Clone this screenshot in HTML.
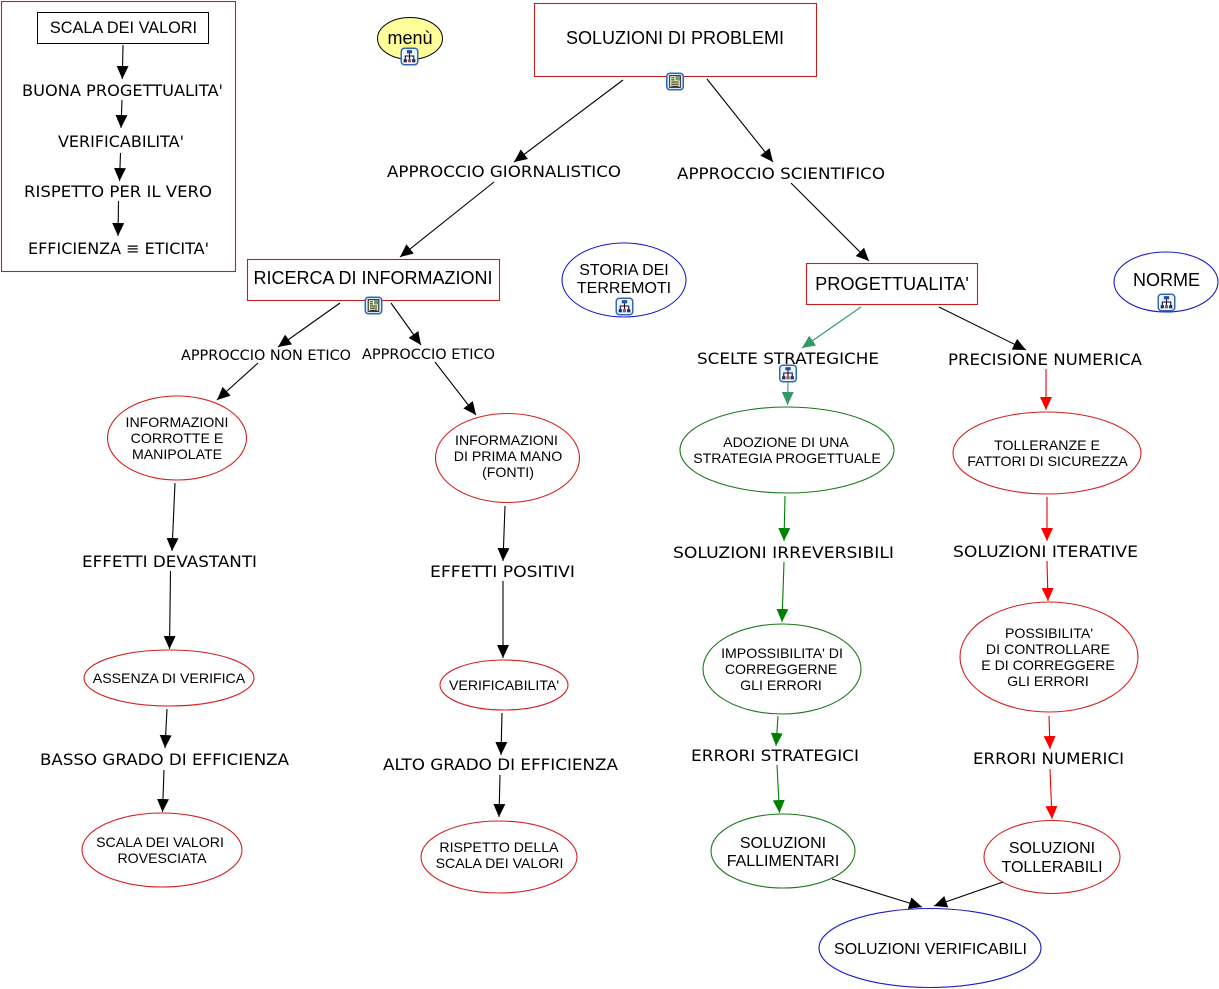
<!DOCTYPE html>
<html lang="it">
<head>
<meta charset="utf-8">
<title>Soluzioni di problemi</title>
<style>
html,body{margin:0;padding:0;background:#fff;width:1219px;height:989px;overflow:hidden}
svg{display:block}
.a{font-family:"Liberation Sans",Arial,sans-serif;text-anchor:middle;fill:#000}
.v{font-family:"DejaVu Sans",Verdana,sans-serif;fill:#000}
.k{stroke:#000;stroke-width:1.1;fill:none}
.g{stroke:#339966;stroke-width:1.1;fill:none}
.dg{stroke:#008000;stroke-width:1.1;fill:none}
.r{stroke:#f00000;stroke-width:1.1;fill:none}
</style>
</head>
<body>
<svg width="1219" height="989" viewBox="0 0 1219 989" xmlns="http://www.w3.org/2000/svg">
<defs>
<marker id="mk" markerUnits="userSpaceOnUse" markerWidth="14" markerHeight="13" refX="13" refY="6" orient="auto"><path d="M0 0L13 6L0 12Z" fill="#000"/></marker>
<marker id="mg" markerUnits="userSpaceOnUse" markerWidth="14" markerHeight="13" refX="13" refY="6" orient="auto"><path d="M0 0L13 6L0 12Z" fill="#339966"/></marker>
<marker id="md" markerUnits="userSpaceOnUse" markerWidth="14" markerHeight="13" refX="13" refY="6" orient="auto"><path d="M0 0L13 6L0 12Z" fill="#008000"/></marker>
<marker id="mr" markerUnits="userSpaceOnUse" markerWidth="14" markerHeight="13" refX="13" refY="6" orient="auto"><path d="M0 0L13 6L0 12Z" fill="#ff0000"/></marker>
<symbol id="im" viewBox="0 0 17 17">
<rect x=".7" y=".7" width="15.6" height="15.6" rx="3" fill="#eef5fd" stroke="#2f68b8" stroke-width="1.4"/>
<path d="M8.500 5.500V8M4.500 11V8H12.500V11M8.500 8V11" stroke="#112" fill="none"/>
<rect x="6" y="2.500" width="5" height="3" fill="#2a4a9c"/>
<rect x="3" y="11" width="3" height="3" fill="#1a2a60"/><rect x="7" y="11" width="3" height="3" fill="#a05050"/><rect x="11" y="11" width="3" height="3" fill="#1a2a60"/>
</symbol>
<symbol id="id" viewBox="0 0 17 17">
<rect x=".7" y=".7" width="15.6" height="15.6" rx="3" fill="#dbe8f8" stroke="#2f68b8" stroke-width="1.4"/>
<rect x="3.500" y="3" width="10" height="11" fill="#ffffc8" stroke="#111" stroke-width=".9"/>
<rect x="9" y="3.500" width="4" height="4" fill="#6b9a78"/>
<path d="M5 5H8M5 7H8M5 9H12M5 11H12M5 13H12" stroke="#111" stroke-width=".9"/>
</symbol>
</defs>

<!-- boxes -->
<rect x="1.500" y="1.500" width="234" height="270" style="fill:#fff;stroke:#c02020;stroke-width:1.1"/>
<rect x="37.500" y="12.500" width="171" height="31" fill="#fff" stroke="#000"/>
<rect x="534.500" y="3.500" width="282" height="73" fill="#fff" stroke="#c02020" stroke-width="1.1"/>
<rect x="247.500" y="259.500" width="252" height="41" fill="#fff" stroke="#c02020" stroke-width="1.1"/>
<rect x="806.500" y="263.500" width="171" height="41" fill="#fff" stroke="#c02020" stroke-width="1.1"/>

<!-- ellipses -->
<ellipse cx="410" cy="38.500" rx="32.500" ry="21" fill="#ffff99" stroke="#000"/>
<g fill="#fff" stroke="#d42020" stroke-width="1.1">
<ellipse cx="177" cy="438" rx="69.500" ry="42"/>
<ellipse cx="507.500" cy="458" rx="72" ry="44.500"/>
<ellipse cx="169" cy="678" rx="85" ry="28"/>
<ellipse cx="504" cy="685" rx="64" ry="25"/>
<ellipse cx="162" cy="850" rx="80" ry="37"/>
<ellipse cx="499" cy="857" rx="78" ry="36"/>
<ellipse cx="1047" cy="453" rx="94" ry="41"/>
<ellipse cx="1049" cy="657" rx="89" ry="55"/>
<ellipse cx="1052" cy="857" rx="68" ry="36.500"/>
</g>
<g fill="#fff" stroke="#1a7a1a" stroke-width="1.1">
<ellipse cx="787" cy="450" rx="107" ry="43"/>
<ellipse cx="782" cy="669" rx="79" ry="45"/>
<ellipse cx="783" cy="851" rx="72" ry="37"/>
</g>
<g fill="#fff" stroke="#1c1cc8" stroke-width="1.1">
<ellipse cx="624" cy="280" rx="62" ry="37"/>
<ellipse cx="1166" cy="282" rx="52" ry="30"/>
<ellipse cx="930" cy="948" rx="111" ry="39.500"/>
</g>

<!-- connectors -->
<g class="k">
<line x1="123" y1="45" x2="122.300" y2="79" marker-end="url(#mk)"/>
<line x1="122" y1="100" x2="121" y2="128" marker-end="url(#mk)"/>
<line x1="120.500" y1="153" x2="119.500" y2="181" marker-end="url(#mk)"/>
<line x1="118.500" y1="201" x2="118" y2="236" marker-end="url(#mk)"/>
<line x1="623" y1="80" x2="514" y2="162" marker-end="url(#mk)"/>
<line x1="707" y1="79" x2="773" y2="162" marker-end="url(#mk)"/>
<line x1="494" y1="182" x2="400" y2="257" marker-end="url(#mk)"/>
<line x1="791" y1="183" x2="869" y2="261" marker-end="url(#mk)"/>
<line x1="340" y1="303" x2="278" y2="347" marker-end="url(#mk)"/>
<line x1="391" y1="303" x2="421" y2="345" marker-end="url(#mk)"/>
<line x1="258" y1="363" x2="217" y2="400" marker-end="url(#mk)"/>
<line x1="435" y1="362" x2="476" y2="415" marker-end="url(#mk)"/>
<line x1="175" y1="483" x2="172" y2="551" marker-end="url(#mk)"/>
<line x1="170.500" y1="571" x2="169.500" y2="649" marker-end="url(#mk)"/>
<line x1="167" y1="709" x2="165" y2="748" marker-end="url(#mk)"/>
<line x1="164" y1="770" x2="162.500" y2="812" marker-end="url(#mk)"/>
<line x1="505" y1="506" x2="503" y2="561" marker-end="url(#mk)"/>
<line x1="503" y1="581" x2="503" y2="658" marker-end="url(#mk)"/>
<line x1="502" y1="713" x2="501" y2="755" marker-end="url(#mk)"/>
<line x1="500" y1="775" x2="499" y2="817" marker-end="url(#mk)"/>
<line x1="939" y1="307" x2="1026" y2="350" marker-end="url(#mk)"/>
<line x1="832" y1="879" x2="922" y2="907" marker-end="url(#mk)"/>
<line x1="1003" y1="882" x2="934" y2="906" marker-end="url(#mk)"/>
</g>
<line class="g" x1="861" y1="307" x2="802" y2="348" marker-end="url(#mg)"/>
<line class="g" x1="788" y1="382" x2="787.500" y2="405" marker-end="url(#mg)"/>
<line class="dg" x1="785" y1="496" x2="784" y2="541" marker-end="url(#md)"/>
<line class="dg" x1="784" y1="562" x2="782" y2="622" marker-end="url(#md)"/>
<line class="dg" x1="778" y1="716" x2="776" y2="746" marker-end="url(#md)"/>
<line class="dg" x1="777" y1="765" x2="779.500" y2="813" marker-end="url(#md)"/>
<line class="r" x1="1046" y1="369" x2="1046" y2="410" marker-end="url(#mr)"/>
<line class="r" x1="1047" y1="497" x2="1047" y2="541" marker-end="url(#mr)"/>
<line class="r" x1="1047" y1="561" x2="1048" y2="601" marker-end="url(#mr)"/>
<line class="r" x1="1049" y1="716" x2="1050" y2="749" marker-end="url(#mr)"/>
<line class="r" x1="1050" y1="769" x2="1052" y2="819" marker-end="url(#mr)"/>

<!-- Arial node text -->
<g class="a" font-size="16">
<text x="123.500" y="33" font-size="16.300">SCALA DEI VALORI</text>
<text x="410" y="44" font-size="18">menù</text>
<text x="624" y="275">STORIA DEI</text>
<text x="624" y="293">TERREMOTI</text>
<text x="1166.500" y="286" font-size="18">NORME</text>
<text x="783" y="848">SOLUZIONI</text>
<text x="783" y="866">FALLIMENTARI</text>
<text x="1052" y="853">SOLUZIONI</text>
<text x="1052" y="872">TOLLERABILI</text>
<text x="930.500" y="954">SOLUZIONI VERIFICABILI</text>
</g>
<g class="a" font-size="18">
<text x="675" y="44">SOLUZIONI DI PROBLEMI</text>
<text x="373" y="284">RICERCA DI INFORMAZIONI</text>
<text x="892" y="290" font-size="18.200">PROGETTUALITA'</text>
</g>
<g class="a" font-size="14.150">
<text x="177" y="427">INFORMAZIONI</text>
<text x="177" y="443">CORROTTE E</text>
<text x="177" y="459">MANIPOLATE</text>
<text x="506.500" y="445">INFORMAZIONI</text>
<text x="508" y="461">DI PRIMA MANO</text>
<text x="508" y="477">(FONTI)</text>
<text x="169" y="683">ASSENZA DI VERIFICA</text>
<text x="504" y="690">VERIFICABILITA'</text>
<text x="160" y="847">SCALA DEI VALORI</text>
<text x="162" y="863">ROVESCIATA</text>
<text x="499" y="852">RISPETTO DELLA</text>
<text x="499.500" y="868">SCALA DEI VALORI</text>
<text x="786" y="447">ADOZIONE DI UNA</text>
<text x="787" y="463">STRATEGIA PROGETTUALE</text>
<text x="1047" y="450">TOLLERANZE E</text>
<text x="1047.500" y="466">FATTORI DI SICUREZZA</text>
<text x="782" y="658">IMPOSSIBILITA' DI</text>
<text x="781" y="674">CORREGGERNE</text>
<text x="781" y="690">GLI ERRORI</text>
<text x="1049" y="638">POSSIBILITA'</text>
<text x="1048" y="654">DI CONTROLLARE</text>
<text x="1048" y="670">E DI CORREGGERE</text>
<text x="1048" y="686">GLI ERRORI</text>
</g>

<!-- Verdana-like labels -->
<g class="v" font-size="16">
<text x="22" y="96" textLength="201" lengthAdjust="spacingAndGlyphs">BUONA PROGETTUALITA'</text>
<text x="58" y="147" textLength="126" lengthAdjust="spacingAndGlyphs">VERIFICABILITA'</text>
<text x="24" y="197" textLength="188" lengthAdjust="spacingAndGlyphs">RISPETTO PER IL VERO</text>
<text x="28" y="254" textLength="181" lengthAdjust="spacingAndGlyphs">EFFICIENZA ≡ ETICITA'</text>
<text x="387" y="177" textLength="234" lengthAdjust="spacingAndGlyphs">APPROCCIO GIORNALISTICO</text>
<text x="677" y="179" textLength="208" lengthAdjust="spacingAndGlyphs">APPROCCIO SCIENTIFICO</text>
<text x="82" y="567" textLength="175" lengthAdjust="spacingAndGlyphs">EFFETTI DEVASTANTI</text>
<text x="430" y="577" textLength="145" lengthAdjust="spacingAndGlyphs">EFFETTI POSITIVI</text>
<text x="40" y="765" textLength="249" lengthAdjust="spacingAndGlyphs">BASSO GRADO DI EFFICIENZA</text>
<text x="383" y="770" textLength="235" lengthAdjust="spacingAndGlyphs">ALTO GRADO DI EFFICIENZA</text>
<text x="697" y="364" textLength="182" lengthAdjust="spacingAndGlyphs">SCELTE STRATEGICHE</text>
<text x="948" y="365" textLength="194" lengthAdjust="spacingAndGlyphs">PRECISIONE NUMERICA</text>
<text x="673" y="558" textLength="221" lengthAdjust="spacingAndGlyphs">SOLUZIONI IRREVERSIBILI</text>
<text x="953" y="557" textLength="185" lengthAdjust="spacingAndGlyphs">SOLUZIONI ITERATIVE</text>
<text x="691" y="761" textLength="168" lengthAdjust="spacingAndGlyphs">ERRORI STRATEGICI</text>
<text x="973" y="764" textLength="151" lengthAdjust="spacingAndGlyphs">ERRORI NUMERICI</text>
</g>
<g class="v" font-size="14">
<text x="181" y="360" textLength="170" lengthAdjust="spacingAndGlyphs">APPROCCIO NON ETICO</text>
<text x="362" y="359" textLength="133" lengthAdjust="spacingAndGlyphs">APPROCCIO ETICO</text>
</g>

<!-- icons -->
<use href="#im" x="400.500" y="47.500" width="18" height="18"/>
<use href="#id" x="666" y="72.500" width="18" height="18"/>
<use href="#id" x="364.500" y="296.500" width="18" height="18"/>
<use href="#im" x="615.500" y="297.500" width="18" height="18"/>
<use href="#im" x="1157.500" y="293.500" width="18" height="18"/>
<use href="#im" x="779" y="364.500" width="18" height="18"/>
</svg>
</body>
</html>
